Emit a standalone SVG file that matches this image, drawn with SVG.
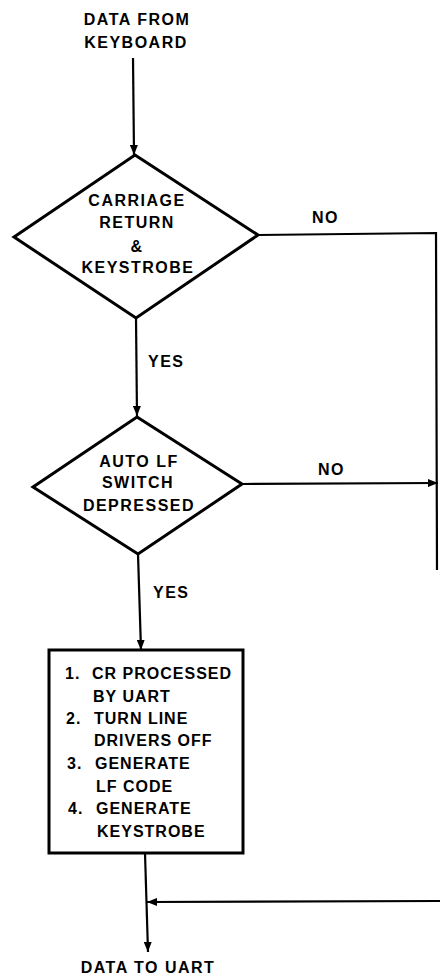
<svg xmlns="http://www.w3.org/2000/svg" width="440" height="976" viewBox="0 0 440 976">
<style>
text{font-family:"Liberation Sans",Arial,sans-serif;font-weight:bold;font-size:16px;fill:#000;letter-spacing:1.5px}
.c{text-anchor:middle}
.b{letter-spacing:1px}
.shape{fill:#fff;stroke:#000;stroke-width:3;stroke-linejoin:miter}
.line{fill:none;stroke:#000;stroke-width:2.2}
</style>
<defs>
<marker id="ah" viewBox="0 0 10 8" refX="10" refY="4" markerWidth="10" markerHeight="8" markerUnits="userSpaceOnUse" orient="auto">
<path d="M0,0 L10,4 L0,8 Z" fill="#000"/>
</marker>
</defs>
<g id="start">
<text class="c" x="137" y="25">DATA FROM</text>
<text class="c" x="136" y="48">KEYBOARD</text>
</g>
<g id="connectors">
<line class="line" x1="133" y1="58" x2="134" y2="155" marker-end="url(#ah)"/>
<polyline class="line" points="258,235 436,233 437,570"/>
<line class="line" x1="136" y1="318" x2="137" y2="416" marker-end="url(#ah)"/>
<line class="line" x1="242" y1="484" x2="438" y2="483" marker-end="url(#ah)"/>
<line class="line" x1="138" y1="554" x2="141" y2="650" marker-end="url(#ah)"/>
<line class="line" x1="145" y1="853" x2="148" y2="952" marker-end="url(#ah)"/>
<line class="line" x1="440" y1="901" x2="147" y2="902" marker-end="url(#ah)"/>
<text x="312" y="223">NO</text>
<text x="148" y="367">YES</text>
<text x="318" y="475">NO</text>
<text x="153" y="598">YES</text>
</g>
<g id="decision1">
<polygon class="shape" points="135,155 258,235 136,318 14,237"/>
<text class="c" x="137" y="206">CARRIAGE</text>
<text class="c" x="137" y="228">RETURN</text>
<text class="c" x="137" y="252">&amp;</text>
<text class="c" x="138" y="273">KEYSTROBE</text>
</g>
<g id="decision2">
<polygon class="shape" points="137,417 242,484 138,554 33,487"/>
<text class="c" x="139" y="467">AUTO LF</text>
<text class="c" x="138" y="488">SWITCH</text>
<text class="c" x="139" y="511">DEPRESSED</text>
</g>
<g id="process">
<rect class="shape" x="49" y="650" width="194" height="203"/>
<text class="b" x="65" y="679">1.</text>
<text class="b" x="92" y="679">CR PROCESSED</text>
<text class="b" x="93" y="702">BY UART</text>
<text class="b" x="66" y="724">2.</text>
<text class="b" x="94" y="724">TURN LINE</text>
<text class="b" x="94" y="746">DRIVERS OFF</text>
<text class="b" x="67" y="769">3.</text>
<text class="b" x="95" y="769">GENERATE</text>
<text class="b" x="96" y="792">LF CODE</text>
<text class="b" x="68" y="814">4.</text>
<text class="b" x="96" y="814">GENERATE</text>
<text class="b" x="97" y="837">KEYSTROBE</text>
</g>
<g id="end">
<text class="c" x="148" y="973">DATA TO UART</text>
</g>
</svg>
